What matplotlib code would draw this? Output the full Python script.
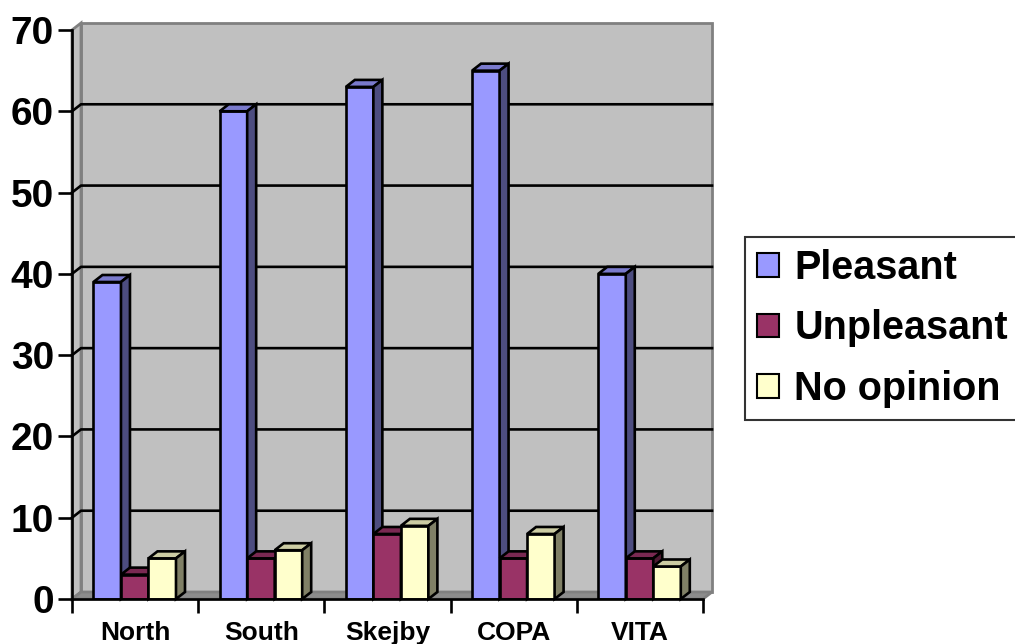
import matplotlib.pyplot as plt
from matplotlib.patches import Polygon, Patch
import numpy as np

plt.rcParams['font.family'] = 'Liberation Sans'
plt.rcParams['font.weight'] = 'bold'

# survey answers per site
sites = ["North", "South", "Skejby", "COPA", "VITA"]
pleasant = [39, 60, 63, 65, 40]
unpleasant = [3, 5, 8, 5, 5]
no_opinion = [5, 6, 9, 8, 4]
series_names = ["Pleasant", "Unpleasant", "No opinion"]
yticks = [0, 10, 20, 30, 40, 50, 60, 70]

front_colors = ["#9999FF", "#993366", "#FFFFCC"]
top_colors = ["#7A7ACC", "#7A2952", "#CCCCA3"]
side_colors = ["#4D4D80", "#4D1A33", "#808066"]

fig = plt.figure(figsize=(10.15, 6.44), dpi=100)
ax = fig.add_axes([72 / 1015, 45 / 644, 631 / 1015, 569 / 644])
ax.set_xlim(0, 5)
ax.set_ylim(0, 70)
ax.patch.set_visible(False)

n = len(sites)
ymax = yticks[-1]
# depth offset of the 3d look, in data units
dx = 9 / 126.2
dy = 7 / 8.13
lw = 1.9

# walls and floor
wall = dict(facecolor="#C0C0C0", edgecolor="#808080", lw=2, clip_on=False, zorder=0)
ax.add_patch(Polygon([(dx, dy), (n + dx, dy), (n + dx, ymax + dy), (dx, ymax + dy)], **wall))
ax.add_patch(Polygon([(0, 0), (dx, dy), (dx, ymax + dy), (0, ymax)], **wall))
ax.add_patch(Polygon([(0, 0), (n, 0), (n + dx, dy), (dx, dy)],
                     facecolor="#8C8C8C", edgecolor="#808080", lw=2, clip_on=False, zorder=0.5))
for v in yticks[1:-1]:
    ax.plot([0, dx, n + dx], [v, v + dy, v + dy], color="black", lw=lw,
            clip_on=False, zorder=1)

# 3d columns
w = 0.218
start = 0.17
for j, vals in enumerate([pleasant, unpleasant, no_opinion]):
    x = np.arange(n) + start + j * w
    ax.bar(x, vals, width=w, align="edge", color=front_colors[j],
           edgecolor="black", lw=lw, zorder=3 + 2 * j)
    for xi, v in zip(x, vals):
        top = [(xi, v), (xi + w, v), (xi + w + dx, v + dy), (xi + dx, v + dy)]
        side = [(xi + w, 0), (xi + w + dx, dy), (xi + w + dx, v + dy), (xi + w, v)]
        ax.add_patch(Polygon(top, facecolor=top_colors[j], edgecolor="black",
                             lw=lw, joinstyle="miter", clip_on=False, zorder=3.5 + 2 * j))
        ax.add_patch(Polygon(side, facecolor=side_colors[j], edgecolor="black",
                             lw=lw, joinstyle="miter", clip_on=False, zorder=3.5 + 2 * j))

for s in ["top", "right"]:
    ax.spines[s].set_visible(False)
for s in ["left", "bottom"]:
    ax.spines[s].set_linewidth(lw)
    ax.spines[s].set_zorder(10)

ax.set_yticks(yticks)
ax.set_yticklabels([str(t) for t in yticks], fontsize=28, fontweight="bold")
ax.tick_params(axis="y", length=10, width=lw, pad=3)

ax.set_xticks(np.arange(n + 1))
ax.set_xticklabels([])
ax.set_xticks(np.arange(n) + 0.5, minor=True)
ax.set_xticklabels(sites, minor=True, fontsize=19, fontweight="bold")
ax.tick_params(axis="x", which="major", length=10, width=lw)
ax.tick_params(axis="x", which="minor", length=0, pad=16)

handles = [Patch(facecolor=c, edgecolor="black", lw=1.5) for c in front_colors]
leg = fig.legend(handles, series_names, loc="upper left",
                 bbox_to_anchor=(745 / 1015, 1 - 237 / 644),
                 frameon=True, fancybox=False, edgecolor="black",
                 prop=dict(size=28.5, weight="bold"),
                 handlelength=0.55, handleheight=0.55, handletextpad=0.4,
                 borderpad=0.3, labelspacing=0.57, borderaxespad=0)
leg.get_frame().set_linewidth(1.5)

fig.savefig("out.png", dpi=100)
